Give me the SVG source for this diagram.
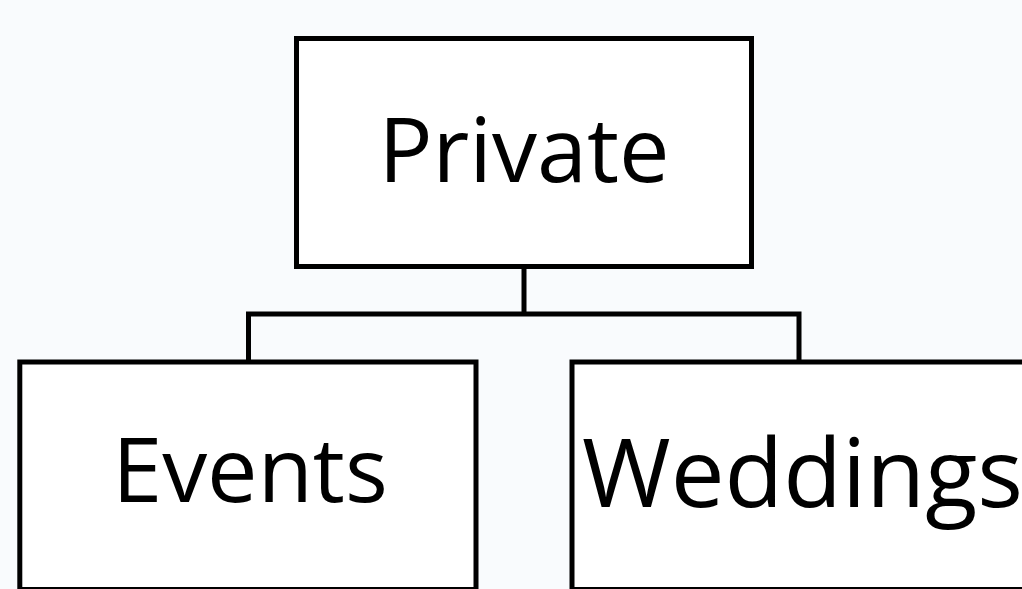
<svg xmlns="http://www.w3.org/2000/svg" width="1022" height="589" viewBox="0 0 1022 589">
<style>
.box{fill:#ffffff;stroke:#000000;stroke-width:5}
.conn{fill:none;stroke:#000000;stroke-width:5}
.lbl{font-family:"Open Sans","Liberation Sans",sans-serif;fill:#000000}
</style>
<rect width="1022" height="589" fill="#f9fbfd"/>
<g id="connectors">
<path class="conn" d="M524 266.5 V314 M248.5 362 V314 H799 V362"/>
</g>
<g id="node-private">
<rect class="box" x="296.5" y="38.5" width="455" height="228"/>
<text class="lbl" x="524" y="182" font-size="90" text-anchor="middle">Private</text>
</g>
<g id="node-events">
<rect class="box" x="19.8" y="362" width="456.2" height="227.5"/>
<text class="lbl" x="250" y="502" font-size="90" text-anchor="middle">Events</text>
</g>
<g id="node-weddings">
<rect class="box" x="572" y="362" width="460" height="227.5"/>
<text class="lbl" x="582" y="507" font-size="96">Weddings</text>
</g>
</svg>
